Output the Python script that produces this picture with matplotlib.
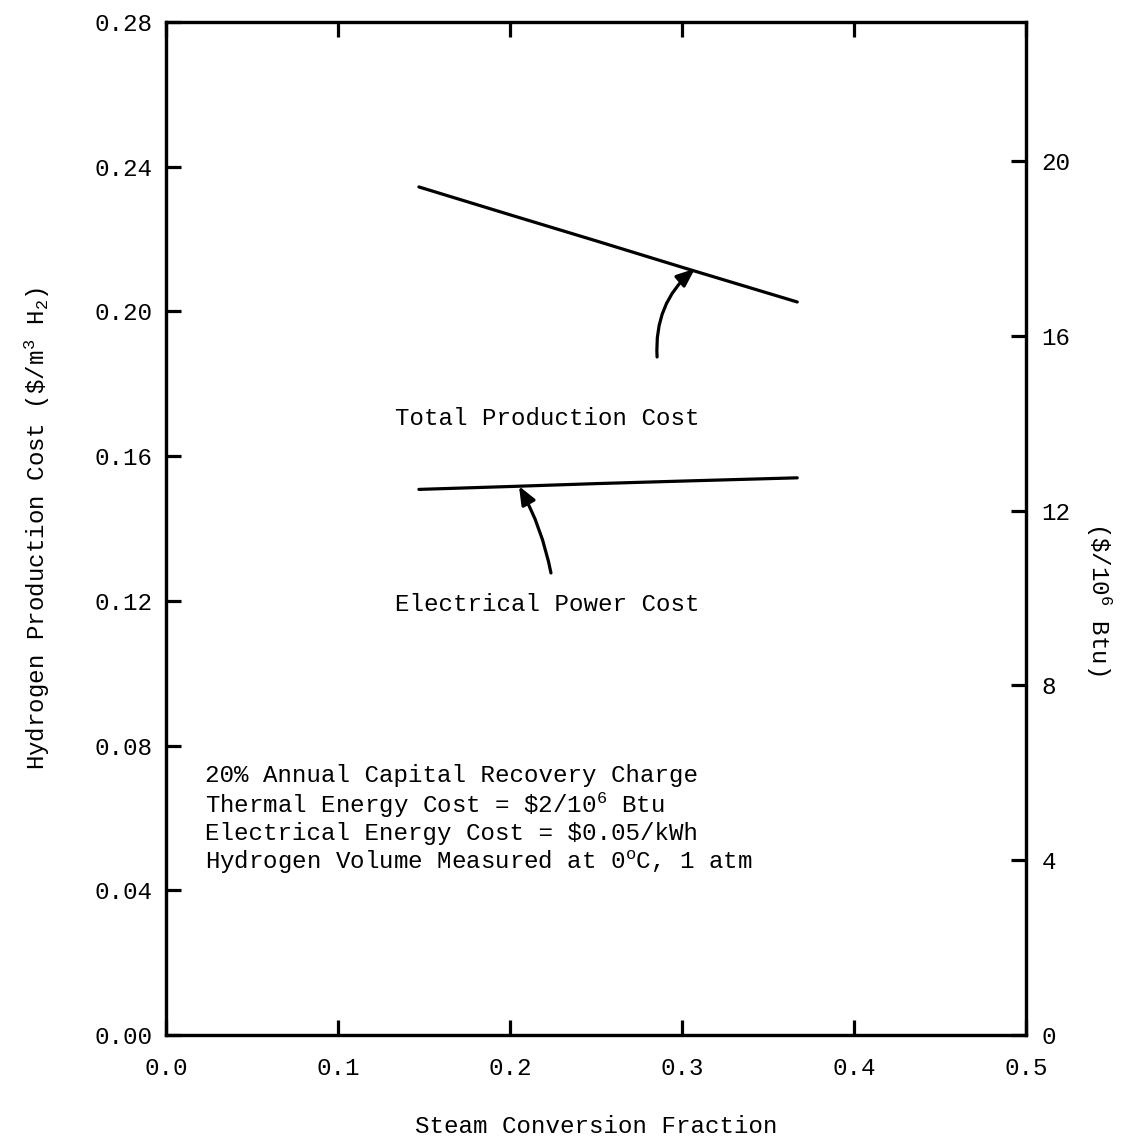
import matplotlib
matplotlib.use("Agg")
import matplotlib.pyplot as plt

plt.rcParams["font.family"] = ["Liberation Mono", "DejaVu Sans Mono"]
plt.rcParams["mathtext.fontset"] = "custom"
plt.rcParams["mathtext.rm"] = "Liberation Mono"
plt.rcParams["mathtext.it"] = "Liberation Mono"
plt.rcParams["mathtext.bf"] = "Liberation Mono:bold"

# Steam conversion fraction vs hydrogen production cost ($/m^3 H2)
conversion = [0.147, 0.20, 0.25, 0.30, 0.367]
total_cost = [0.2344, 0.2267, 0.2195, 0.2122, 0.2026]
electrical_cost = [0.1508, 0.1516, 0.1524, 0.1531, 0.1540]

x_ticks = [0.0, 0.1, 0.2, 0.3, 0.4, 0.5]
left_ticks = [0.00, 0.04, 0.08, 0.12, 0.16, 0.20, 0.24, 0.28]
right_ticks = [0, 4, 8, 12, 16, 20]
usd_m3_to_usd_mmbtu = 82.8  # $/m^3 H2 -> $/10^6 Btu

note_lines = [
    "20% Annual Capital Recovery Charge",
    r"Thermal Energy Cost = \$2/10$^{6}$ Btu",
    r"Electrical Energy Cost = \$0.05/kWh",
    r"Hydrogen Volume Measured at 0$^{o}$C, 1 atm",
]

FS = 17.4
LW = 2.3

fig = plt.figure(figsize=(11.25, 11.37), dpi=100)
ax = fig.add_axes([0.1476, 0.0897, 0.9120 - 0.1476, 0.9807 - 0.0897])

ax.plot(conversion, total_cost, color="black", lw=LW, solid_capstyle="round")
ax.plot(conversion, electrical_cost, color="black", lw=LW, solid_capstyle="round")

ax.set_xlim(0, 0.5)
ax.set_ylim(0, 0.28)
ax.set_xticks(x_ticks)
ax.set_xticklabels([f"{v:.1f}" for v in x_ticks])
ax.set_yticks(left_ticks)
ax.set_yticklabels([f"{v:.2f}" for v in left_ticks])
ax.tick_params(axis="both", direction="in", length=11, width=LW, labelsize=FS,
               top=True, right=False)
ax.tick_params(axis="x", pad=16)
ax.tick_params(axis="y", pad=10)
for s in ax.spines.values():
    s.set_linewidth(LW)

ax.set_xlabel("Steam Conversion Fraction", fontsize=FS, labelpad=25)
ax.set_ylabel(r"Hydrogen Production Cost (\$/m$^3$ H$_2$)", fontsize=FS, labelpad=30)

ax2 = ax.twinx()
ax2.set_ylim(0, 0.28 * usd_m3_to_usd_mmbtu)
ax2.set_yticks(right_ticks)
ax2.set_yticklabels([str(v) for v in right_ticks])
ax2.tick_params(axis="y", direction="in", length=11, width=LW, labelsize=FS, pad=11)
for s in ax2.spines.values():
    s.set_linewidth(LW)
ax2.set_ylabel(r"(\$/10$^6$ Btu)", fontsize=FS, rotation=-90, va="center")
ax2.yaxis.set_label_coords(1.085, 0.43)

# Curve labels with pointer arrows
ax.text(0.133, 0.1705, "Total Production Cost", fontsize=FS, va="center", ha="left")
ax.text(0.133, 0.1191, "Electrical Power Cost", fontsize=FS, va="center", ha="left")
arrow = dict(arrowstyle="-|>,head_length=1.1,head_width=0.45", color="black",
             lw=LW, shrinkA=0, shrinkB=0)
ax.annotate("", xy=(0.3075, 0.2118), xytext=(0.2855, 0.1874),
            arrowprops=dict(arrow, connectionstyle="arc3,rad=-0.25"))
ax.annotate("", xy=(0.2052, 0.1517), xytext=(0.2238, 0.1277),
            arrowprops=dict(arrow, connectionstyle="arc3,rad=0.08"))

# Assumptions block
x0 = 0.0227
y0 = 0.0716
dy = 0.0080
for i, line in enumerate(note_lines):
    ax.text(x0, y0 - i * dy, line, fontsize=FS, va="center", ha="left")

fig.savefig("out.png", dpi=100)
